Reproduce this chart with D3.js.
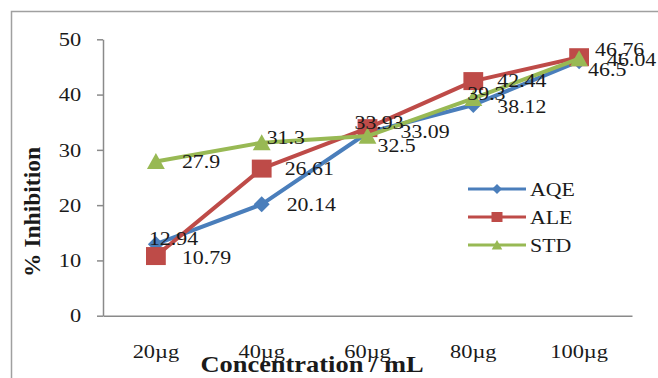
<!DOCTYPE html>
<html>
<head>
<meta charset="utf-8">
<script src="https://cdn.jsdelivr.net/npm/d3@7"></script>
<style>
  html, body { margin: 0; padding: 0; background: #fff; }
  svg { display: block; }
  text { font-family: "Liberation Serif", "Times New Roman", serif; fill: #1a1a1a; }
</style>
</head>
<body>
<svg id="chart" width="658" height="378"></svg>
<script>
// Concentration levels and % inhibition for each extract
const categories = ["20µg", "40µg", "60µg", "80µg", "100µg"];
const aqe = [12.94, 20.14, 33.09, 38.12, 46.04];
const ale = [10.79, 26.61, 33.93, 42.44, 46.76];
const std = [27.9, 31.3, 32.5, 39.3, 46.5];
const yTicks = [0, 10, 20, 30, 40, 50];
const seriesNames = ["AQE", "ALE", "STD"];

const series = [
  { name: seriesNames[0], values: aqe, color: "#4A7EBB", marker: "diamond" },
  { name: seriesNames[1], values: ale, color: "#BE4B48", marker: "square" },
  { name: seriesNames[2], values: std, color: "#98B954", marker: "triangle" }
];

// Hand-placed nudges for the value labels (dx from point, dy of label centre)
const labelNudge = {
  AQE: [[-7, -6], [25, 0], [33, -1], [24, 2], [28, -2]],
  ALE: [[26, 1], [23, 0], [-13, -6], [24, -1], [16, -8]],
  STD: [[26, 0], [5, -5], [10, 9], [-6, -5], [9, 11]]
};

const SX = 1.15; // horizontal text stretch
const svg = d3.select("#chart");

// outer chart frame
svg.append("rect")
  .attr("x", 11.5).attr("y", 11.5)
  .attr("width", 700).attr("height", 400)
  .attr("fill", "none").attr("stroke", "#a0a0a0").attr("stroke-width", 1.5);

const plot = { left: 103, right: 632, top: 39.3, bottom: 315.7 };

const x = d3.scaleBand().domain(categories).range([plot.left, plot.right]);
const cx = c => x(c) + x.bandwidth() / 2;
const y = d3.scaleLinear().domain([0, 50]).range([plot.bottom, plot.top]);

// y axis
const yAxis = svg.append("g")
  .attr("transform", `translate(${plot.left},0)`)
  .call(d3.axisLeft(y).tickValues(yTicks).tickSize(6).tickSizeOuter(0).tickPadding(13));
yAxis.selectAll("path, line").attr("stroke", "#8a8a8a").attr("stroke-width", 1.5);
yAxis.selectAll("text")
  .style("font-family", "'Liberation Serif', serif")
  .style("font-size", "19.5px").attr("fill", "#222")
  .attr("transform", `scale(${SX},1)`);

// x axis
const xAxis = svg.append("g")
  .attr("transform", `translate(0,${plot.bottom})`)
  .call(d3.axisBottom(x).tickSize(0).tickSizeOuter(0).tickPadding(28.5));
xAxis.select("path").attr("stroke", "#8a8a8a").attr("stroke-width", 1.5);
xAxis.selectAll("text")
  .style("font-family", "'Liberation Serif', serif")
  .style("font-size", "19.5px").attr("fill", "#222")
  .attr("transform", `scale(${SX},1)`);

// marker shapes
function markerPath(kind, s) {
  if (kind === "diamond") {
    return `M0,${-s}L${s},0L0,${s}L${-s},0Z`;
  } else if (kind === "square") {
    return `M${-s * 1.1},${-s}H${s * 1.1}V${s}H${-s * 1.1}Z`;
  } else {
    return `M0,${-s}L${s * 1.05},${s * 0.9}H${-s * 1.05}Z`;
  }
}
const markerSize = { diamond: 8, square: 9, triangle: 8.5 };

const line = d3.line().x((d, i) => cx(categories[i])).y(d => y(d));

series.forEach(s => {
  const g = svg.append("g");
  g.append("path")
    .attr("d", line(s.values))
    .attr("fill", "none")
    .attr("stroke", s.color)
    .attr("stroke-width", 4)
    .attr("stroke-linejoin", "round");
  g.selectAll("path.mk").data(s.values).enter().append("path")
    .attr("class", "mk")
    .attr("d", markerPath(s.marker, markerSize[s.marker]))
    .attr("transform", (d, i) => `translate(${cx(categories[i])},${y(d)})`)
    .attr("fill", s.color);
});

// value labels
series.forEach(s => {
  svg.append("g").selectAll("text").data(s.values).enter().append("text")
    .attr("transform", (d, i) => {
      const n = labelNudge[s.name][i];
      return `translate(${cx(categories[i]) + n[0]},${y(d) + n[1] + 6.5}) scale(${SX},1)`;
    })
    .style("font-size", "19px")
    .text(d => d);
});

// axis titles
svg.append("text")
  .attr("transform", `translate(40,212) rotate(-90)`)
  .attr("text-anchor", "middle")
  .style("font-size", "23.5px").style("font-weight", "bold")
  .text("% Inhibition");

svg.append("text")
  .attr("transform", `translate(312,372) scale(${SX},1)`)
  .attr("text-anchor", "middle")
  .style("font-size", "23px").style("font-weight", "bold")
  .text("Concentration / mL");

// legend
const legend = svg.append("g");
series.forEach((s, i) => {
  const ly = 189 + i * 28;
  legend.append("line")
    .attr("x1", 468).attr("x2", 526).attr("y1", ly).attr("y2", ly)
    .attr("stroke", s.color).attr("stroke-width", 3);
  legend.append("path")
    .attr("d", markerPath(s.marker, 5))
    .attr("transform", `translate(497,${ly})`)
    .attr("fill", s.color);
  legend.append("text")
    .attr("transform", `translate(530,${ly + 6.5}) scale(${SX},1)`)
    .style("font-size", "19px")
    .text(s.name);
});
</script>
</body>
</html>
